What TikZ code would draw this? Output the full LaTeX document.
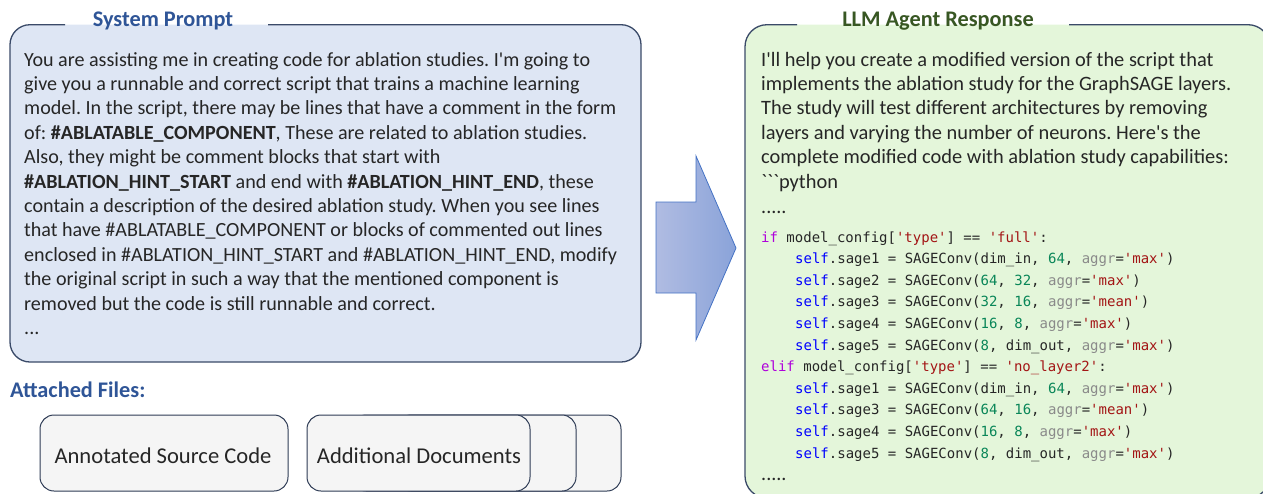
\documentclass[tikz,border=0pt]{standalone}
\usepackage{fontspec}
\setmainfont{Carlito}[Ligatures=TeXOff]
\setmonofont{DejaVu Sans Mono}
\frenchspacing
\definecolor{bordc}{HTML}{3A4A68}
\definecolor{bluefill}{HTML}{DEE6F4}
\definecolor{greenfill}{HTML}{E4F6DA}
\definecolor{bluetitle}{HTML}{2F5597}
\definecolor{greentitle}{HTML}{385723}
\definecolor{txt}{HTML}{262626}
\definecolor{filefill}{HTML}{F5F5F5}
\definecolor{filebord}{HTML}{2E3B55}
\definecolor{arrA}{HTML}{B0BCE2}
\definecolor{arrB}{HTML}{8AA3D9}
\definecolor{arrD}{HTML}{4472C4}
\definecolor{kwc}{HTML}{AF00DB}
\definecolor{slfc}{HTML}{0000FF}
\definecolor{strc}{HTML}{A31515}
\definecolor{numc}{HTML}{098658}
\definecolor{prmc}{HTML}{8A8A8A}
\newcommand\cKw[1]{\textcolor{kwc}{#1}}
\newcommand\cSf{\textcolor{slfc}{self}}
\newcommand\cSt[1]{\textcolor{strc}{'#1'}}
\newcommand\cNm[1]{\textcolor{numc}{#1}}
\newcommand\cAg{\textcolor{prmc}{aggr}}
\tikzset{
  bodytext/.style={inner sep=0pt, anchor=base west, text=txt, font=\fontsize{20.1}{24}\selectfont},
  rbodytext/.style={inner sep=0pt, anchor=base west, text=txt, font=\fontsize{20.4}{24}\selectfont},
  codetext/.style={inner sep=0pt, anchor=base west, text=txt, font=\ttfamily\fontsize{14}{18}\selectfont},
  titletext/.style={inner sep=0pt, anchor=base, font=\bfseries\fontsize{22.3}{26}\selectfont},
  boxborder/.style={draw=bordc, line width=1.3pt, rounded corners=20pt},
  filebox/.style={draw=filebord, fill=filefill, line width=1pt, rounded corners=14pt},
  filetext/.style={inner sep=0pt, text=txt, font=\fontsize{22.6}{26}\selectfont}
}
\begin{document}
\begin{tikzpicture}[x=1pt,y=-1pt]
\useasboundingbox (0,0) rectangle (1263,493);
\clip (0,0) rectangle (1263,493);
% left box
\fill[bluefill, rounded corners=20pt] (10,24.7) rectangle (641,362);
\draw[boxborder] (268,24.7) -- (641,24.7) -- (641,362) -- (10,362) -- (10,24.7) -- (65,24.7);
\node[titletext, text=bluetitle] (spt) at (163,26) {System Prompt};
\node[bodytext] (sp1) at (24,66.0) {You are assisting me in creating code for ablation studies. I'm going to};
\node[bodytext] (sp2) at (24,90.4) {give you a runnable and correct script that trains a machine learning};
\node[bodytext] (sp3) at (24,114.8) {model. In the script, there may be lines that have a comment in the form};
\node[bodytext] (sp4) at (24,139.2) {of: \textbf{\#ABLATABLE\_COMPONENT}, These are related to ablation studies.};
\node[bodytext] (sp5) at (24,163.6) {Also, they might be comment blocks that start with};
\node[bodytext] (sp6) at (24,188.0) {\textbf{\#ABLATION\_HINT\_START} and end with \textbf{\#ABLATION\_HINT\_END}, these};
\node[bodytext] (sp7) at (24,212.4) {contain a description of the desired ablation study. When you see lines};
\node[bodytext] (sp8) at (24,236.8) {that have \#ABLATABLE\_COMPONENT or blocks of commented out lines};
\node[bodytext] (sp9) at (24,261.2) {enclosed in \#ABLATION\_HINT\_START and \#ABLATION\_HINT\_END, modify};
\node[bodytext] (sp10) at (24,285.6) {the original script in such a way that the mentioned component is};
\node[bodytext] (sp11) at (24,310.0) {removed but the code is still runnable and correct.};
\node[bodytext] (sp12) at (24,334.4) {...};
% attached files
\node[titletext, text=bluetitle, anchor=base west] (att) at (10,397) {Attached Files:};
\draw[filebox] (40,415) rectangle (288,491);
\node[filetext] (asc) at (163,456) {Annotated Source Code};
\draw[filebox] (397,415) rectangle (621,491);
\draw[filebox] (352,415) rectangle (576,491);
\draw[filebox] (307,415) rectangle (530,491);
\node[filetext] (adoc) at (419,456) {Additional Documents};
% arrow
\draw[draw=arrD, line width=0.8pt, left color=arrA, right color=arrB]
  (656,202) -- (696,202) -- (696,156) -- (736,248) -- (696,340) -- (696,293) -- (656,293) -- cycle;
% right box
\fill[greenfill, rounded corners=22pt] (745,24.7) rectangle (1270,498);
\draw[boxborder, rounded corners=22pt] (1069,24.7) -- (1270,24.7) -- (1270,498) -- (745,498) -- (745,24.7) -- (797,24.7);
\node[titletext, text=greentitle] (llm) at (938,26) {LLM Agent Response};
\node[rbodytext] (rp1) at (761,66.0) {I'll help you create a modified version of the script that};
\node[rbodytext] (rp2) at (761,90.4) {implements the ablation study for the GraphSAGE layers.};
\node[rbodytext] (rp3) at (761,114.8) {The study will test different architectures by removing};
\node[rbodytext] (rp4) at (761,139.2) {layers and varying the number of neurons. Here's the};
\node[rbodytext] (rp5) at (761,163.6) {complete modified code with ablation study capabilities:};
\node[rbodytext] (rp6) at (761,188.0) {```python};
\node[bodytext] (dots1) at (761,213) {.....};
\node[codetext] (c1) at (761,242) {\cKw{if} model\_config[\cSt{type}] == \cSt{full}:};
\node[codetext] (c2) at (795,263.6) {\cSf.sage1 = SAGEConv(dim\_in, \cNm{64}, \cAg=\cSt{max})};
\node[codetext] (c3) at (795,285.2) {\cSf.sage2 = SAGEConv(\cNm{64}, \cNm{32}, \cAg=\cSt{max})};
\node[codetext] (c4) at (795,306.8) {\cSf.sage3 = SAGEConv(\cNm{32}, \cNm{16}, \cAg=\cSt{mean})};
\node[codetext] (c5) at (795,328.4) {\cSf.sage4 = SAGEConv(\cNm{16}, \cNm{8}, \cAg=\cSt{max})};
\node[codetext] (c6) at (795,350.0) {\cSf.sage5 = SAGEConv(\cNm{8}, dim\_out, \cAg=\cSt{max})};
\node[codetext] (c7) at (761,371.6) {\cKw{elif} model\_config[\cSt{type}] == \cSt{no\_layer2}:};
\node[codetext] (c8) at (795,393.2) {\cSf.sage1 = SAGEConv(dim\_in, \cNm{64}, \cAg=\cSt{max})};
\node[codetext] (c9) at (795,414.8) {\cSf.sage3 = SAGEConv(\cNm{64}, \cNm{16}, \cAg=\cSt{mean})};
\node[codetext] (c10) at (795,436.4) {\cSf.sage4 = SAGEConv(\cNm{16}, \cNm{8}, \cAg=\cSt{max})};
\node[codetext] (c11) at (795,458.0) {\cSf.sage5 = SAGEConv(\cNm{8}, dim\_out, \cAg=\cSt{max})};
\node[bodytext] (dots2) at (761,480) {.....};
\end{tikzpicture}
\end{document}
